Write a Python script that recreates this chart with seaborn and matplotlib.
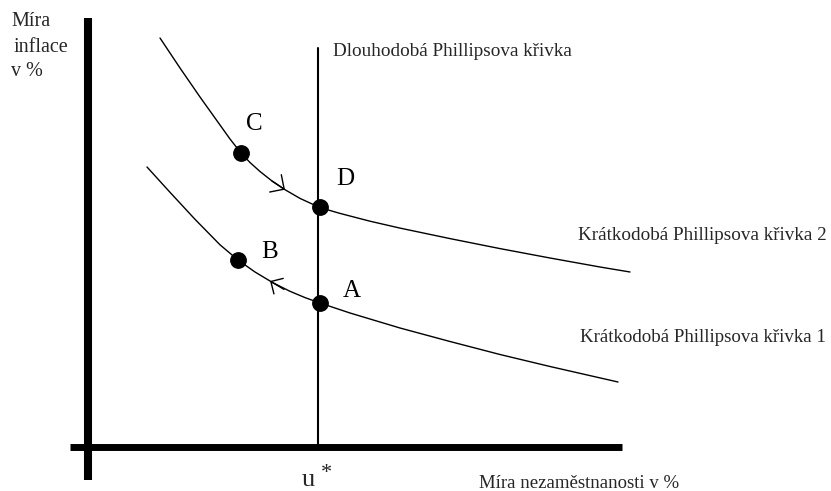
import matplotlib
matplotlib.use("Agg")
import matplotlib.pyplot as plt
import seaborn as sns
import pandas as pd

sns.set_theme(style="white")
plt.rcParams['font.family'] = ['Liberation Serif', 'DejaVu Serif']

H = 491  # figure height in px; values below read in px from top, converted

# Short-run Phillips curve 2 (upper)
spc2_x = [160, 180, 200, 220, 230, 241, 250, 260, 272, 285, 300, 320, 340, 370, 400, 450, 500, 550, 600, 630]
spc2_py = [38, 68, 97, 125, 139, 153, 162.5, 171.5, 181, 189.7, 198.4, 207.6, 213.4, 221.2, 228.1, 238.6, 248.6, 258, 267, 272]
# Short-run Phillips curve 1 (lower)
spc1_x = [147, 170, 195, 220, 238, 255, 273, 290, 305, 320, 350, 400, 450, 500, 550, 618]
spc1_py = [167, 192.3, 219.3, 244.8, 260, 272, 282.8, 291.3, 297.6, 303, 313, 328, 341.5, 354.5, 366.5, 382]

# Points
pt_labels = ["C", "D", "B", "A"]
pt_x = [241, 320, 238, 320]
pt_py = [153, 207, 260, 303]
lab_x = [254, 345, 270, 352]
lab_py = [124, 179, 252, 291]

u_star_x = 318  # natural rate of unemployment
lrpc_top_py = 48
axis_py = 447
yaxis_x = 88

fig = plt.figure(figsize=(8.31, 4.91), dpi=100)
ax = fig.add_axes([0, 0, 1, 1])
ax.set_xlim(0, 831)
ax.set_ylim(0, H)
ax.axis("off")

def y(v):
    return [H - p for p in v] if isinstance(v, list) else H - v

df2 = pd.DataFrame({"u": spc2_x, "pi": y(spc2_py)})
df1 = pd.DataFrame({"u": spc1_x, "pi": y(spc1_py)})
sns.lineplot(data=df2, x="u", y="pi", sort=False, estimator=None, color="black", lw=1.0, ax=ax)
sns.lineplot(data=df1, x="u", y="pi", sort=False, estimator=None, color="black", lw=1.0, ax=ax)

# Axes lines
ax.plot([yaxis_x, yaxis_x], [y(18), y(480)], color="black", lw=5.8, solid_capstyle="butt")
ax.plot([70, 622], [y(axis_py), y(axis_py)], color="black", lw=5.0, solid_capstyle="butt")
# Long-run Phillips curve
ax.plot([u_star_x, u_star_x], [y(lrpc_top_py), y(axis_py)], color="black", lw=1.5)

dfp = pd.DataFrame({"u": pt_x, "pi": y(pt_py)})
sns.scatterplot(data=dfp, x="u", y="pi", color="black", s=125, edgecolor="black", ax=ax, zorder=5)
for lab, lx, ly in zip(pt_labels, lab_x, lab_py):
    ax.text(lx, y(ly), lab, fontsize=18, ha="center", va="center", color="black")

# Arrows
ax.annotate("", xy=(285, y(189.7)), xytext=(272, y(181)),
            arrowprops=dict(arrowstyle="->,head_length=0.75,head_width=0.75",
                            mutation_scale=10, color="black", lw=1.0, shrinkA=0, shrinkB=0))
ax.annotate("", xy=(270, y(281)), xytext=(284, y(289.4)),
            arrowprops=dict(arrowstyle="->,head_length=0.65,head_width=0.65",
                            mutation_scale=10, color="black", lw=1.0, shrinkA=0, shrinkB=0))

# Texts
ax.text(11, y(21), "Míra", fontsize=14.5, ha="left", va="center")
ax.text(14, y(47), "inflace", fontsize=14.5, ha="left", va="center")
ax.text(11, y(71), "v %", fontsize=14.5, ha="left", va="center")
ax.text(333, y(51), "Dlouhodobá Phillipsova křivka", fontsize=13.8, ha="left", va="center")
ax.text(578, y(235), "Krátkodobá Phillipsova křivka 2", fontsize=13.8, ha="left", va="center")
ax.text(580, y(338), "Krátkodobá Phillipsova křivka 1", fontsize=13.6, ha="left", va="center")
ax.text(479, y(483), "Míra nezaměstnanosti v %", fontsize=13.5, ha="left", va="center")
ax.text(302, y(491), "u", fontsize=19, ha="left", va="bottom")
ax.text(326, y(473), "*", fontsize=16, ha="center", va="center")

fig.savefig("out.png", dpi=100)
